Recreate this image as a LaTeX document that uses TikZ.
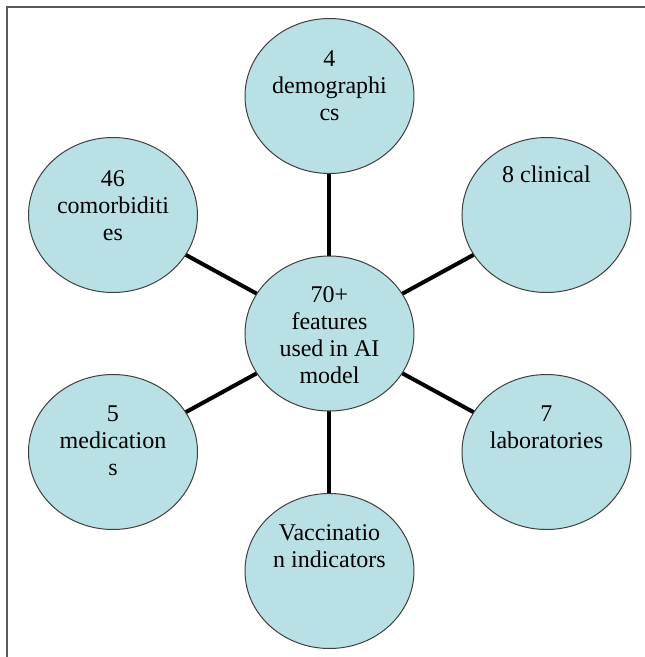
\documentclass[tikz,border=0pt]{standalone}
\usepackage{fontspec}
\setmainfont{Liberation Serif}
\usetikzlibrary{positioning,shapes.geometric,backgrounds}
\definecolor{bubblefill}{RGB}{185,224,228}
\definecolor{rimgray}{RGB}{64,64,64}
\definecolor{framegray}{RGB}{90,90,90}
\tikzset{
  fnode/.style={ellipse,draw=rimgray,line width=1pt,fill=bubblefill,minimum width=169pt,minimum height=155pt,inner sep=0pt},
  ftext/.style={align=center,inner sep=0pt,font=\rmfamily\fontsize{24}{27}\selectfont},
  spoke/.style={line width=4pt,black}
}

\begin{document}
\begin{tikzpicture}[x=1pt,y=1pt]
\useasboundingbox (-329.5,-323.5) rectangle (315.5,333.5);
\draw[framegray,line width=1.5pt] (-322.5,-323.5) |- (315.5,326.5);
% hub and six features
\node[fnode] (C) at (0,0) {};
\node[fnode] (T) at (0,237.5) {};
\node[fnode] (TR) at (217,118.5) {};
\node[fnode] (BR) at (217,-118.5) {};
\node[fnode] (B) at (0,-237.5) {};
\node[fnode] (BL) at (-216.5,-118.5) {};
\node[fnode] (TL) at (-216.5,118.5) {};
\begin{scope}[on background layer]
\foreach \n in {T,TR,BR,B,BL,TL}
  \draw[spoke] (C.center) -- (\n.center);
\end{scope}
% labels
\node[ftext, below=31pt of C.north] (Ct) {70+\\features\\used in AI\\model};
\node[ftext, below=33pt of T.north] (Tt) {4\\demographi\\cs};
\node[ftext, below=29pt of TR.north] (TRt) {8 clinical};
\node[ftext, below=32pt of BR.north] (BRt) {7\\laboratories};
\node[ftext, below=31pt of B.north] (Bt) {Vaccinatio\\n indicators};
\node[ftext, below=32pt of BL.north] (BLt) {5\\medication\\s};
\node[ftext, below=33pt of TL.north] (TLt) {46\\comorbiditi\\es};
\end{tikzpicture}
\end{document}
